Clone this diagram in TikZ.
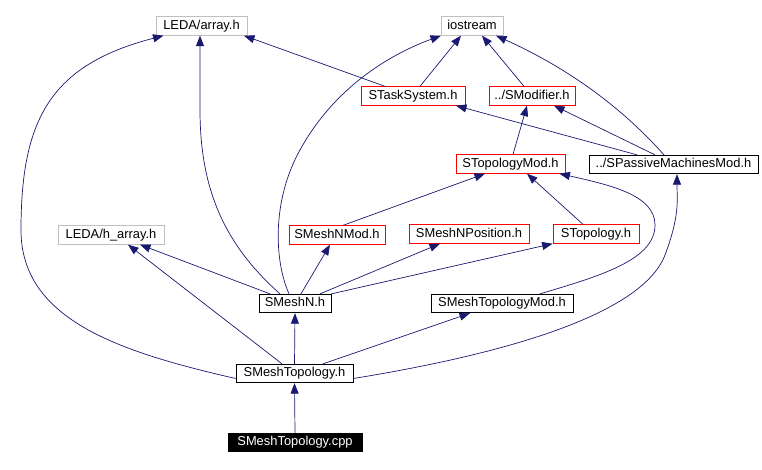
\documentclass[tikz,border=0pt]{standalone}
\usepackage{fontspec}
\setmainfont{Liberation Sans}
\usetikzlibrary{arrows.meta}
\definecolor{edgeblue}{HTML}{191970}
\definecolor{grayframe}{HTML}{BFBFBF}
\tikzset{
  box/.style={draw, line width=0.8pt, inner sep=0pt, minimum height=18.5pt, text height=9.4pt, text depth=2.6pt, font=\fontsize{12.9}{15}\selectfont, anchor=center},
  gbox/.style={box, draw=grayframe},
  rbox/.style={box, draw=red},
  kbox/.style={box, draw=black},
  fbox/.style={box, draw=black, fill=black, text=white},
  edge/.style={draw=edgeblue, line width=0.7pt, -{Triangle[length=10.5pt,width=8pt]}, fill=none},
}
\begin{document}
\begin{tikzpicture}[x=1pt,y=-1pt]
\useasboundingbox (0,0) rectangle (762,470);
% nodes
\node[gbox, minimum width=91pt]  (arr)   at (201.5,26)  {LEDA/array.h};
\node[gbox, minimum width=62pt]  (ios)   at (472,26)    {iostream};
\node[rbox, minimum width=104pt] (task)  at (413,96)    {STaskSystem.h};
\node[rbox, minimum width=86pt]  (smod)  at (532,96)    {../SModifier.h};
\node[rbox, minimum width=109pt] (tmod)  at (510.5,164) {STopologyMod.h};
\node[kbox, minimum width=169pt] (pass)  at (673.5,164.5) {../SPassiveMachinesMod.h};
\node[gbox, minimum width=106pt] (harr)  at (111,235)   {LEDA/h\_array.h};
\node[rbox, minimum width=96pt]  (nmod)  at (337,235)   {SMeshNMod.h};
\node[rbox, minimum width=120pt] (npos)  at (469,234)   {SMeshNPosition.h};
\node[rbox, minimum width=86pt]  (topo)  at (596,234)   {STopology.h};
\node[kbox, minimum width=72pt]  (meshn) at (295,303.5) {SMeshN.h};
\node[kbox, minimum width=142pt] (tmodm) at (502,303.5) {SMeshTopologyMod.h};
\node[kbox, minimum width=117pt] (mtop)  at (294.5,373.5) {SMeshTopology.h};
\node[fbox, minimum width=134pt] (cpp)   at (295,442.5) {SMeshTopology.cpp};
% edges
\draw[edge] (cpp.north) -- (mtop.south);
\draw[edge] (mtop.north) -- (meshn.south);
\draw[edge] ([yshift=-5pt]mtop.west) .. controls (120,352) and (21,320) .. (21,230)
   .. controls (21,120) and (50,65) .. ([xshift=-38pt]arr.south);
\draw[edge] ([xshift=-12.5pt]mtop.north) -- ([xshift=17pt]harr.south);
\draw[edge] ([xshift=28.5pt]mtop.north) -- ([xshift=-32pt]tmodm.south);
\draw[edge] ([yshift=-5pt]mtop.east) .. controls (480,358) and (640,320) .. (665,255)
   .. controls (680,215) and (677,200) .. ([xshift=3.5pt]pass.south);
\draw[edge] ([xshift=-15pt]meshn.north) .. controls (225,245) and (200,190) .. (200,110) -- ([xshift=-1.5pt]arr.south);
\draw[edge] ([xshift=-25pt]meshn.north) -- ([xshift=29pt]harr.south);
\draw[edge] ([xshift=-6pt]meshn.north) .. controls (274,260) and (272,200) .. (300,150)
   .. controls (330,95) and (380,58) .. ([xshift=-31pt]ios.south);
\draw[edge] ([xshift=6pt]meshn.north) -- ([xshift=-7pt]nmod.south);
\draw[edge] ([xshift=25pt]meshn.north) -- ([xshift=-29pt]npos.south);
\draw[edge] (meshn.north east) -- (topo.south west);
\draw[edge] ([xshift=6pt]nmod.north) -- ([xshift=-25.5pt]tmod.south);
\draw[edge] ([xshift=-13pt]topo.north) -- ([xshift=16.5pt]tmod.south);
\draw[edge] ([xshift=38pt]tmodm.north) .. controls (600,276) and (655,260) .. (655,225)
   .. controls (655,195) and (610,185) .. ([xshift=-6pt]tmod.south east);
\draw[edge] ([xshift=2.5pt]tmod.north) -- ([xshift=-5pt]smod.south);
\draw[edge] ([xshift=-28pt]task.north) -- ([xshift=42.5pt]arr.south);
\draw[edge] ([xshift=7pt]task.north) -- ([xshift=-11pt]ios.south);
\draw[edge] ([xshift=-8pt]smod.north) -- ([xshift=10pt]ios.south);
\draw[edge] ([xshift=-9.5pt]pass.north) .. controls (640,128) and (590,78) .. ([xshift=24pt]ios.south);
\draw[edge] ([xshift=-36.5pt]pass.north) -- ([xshift=43pt]task.south);
\draw[edge] ([xshift=-18.5pt]pass.north) -- ([xshift=22pt]smod.south);
\end{tikzpicture}
\end{document}
